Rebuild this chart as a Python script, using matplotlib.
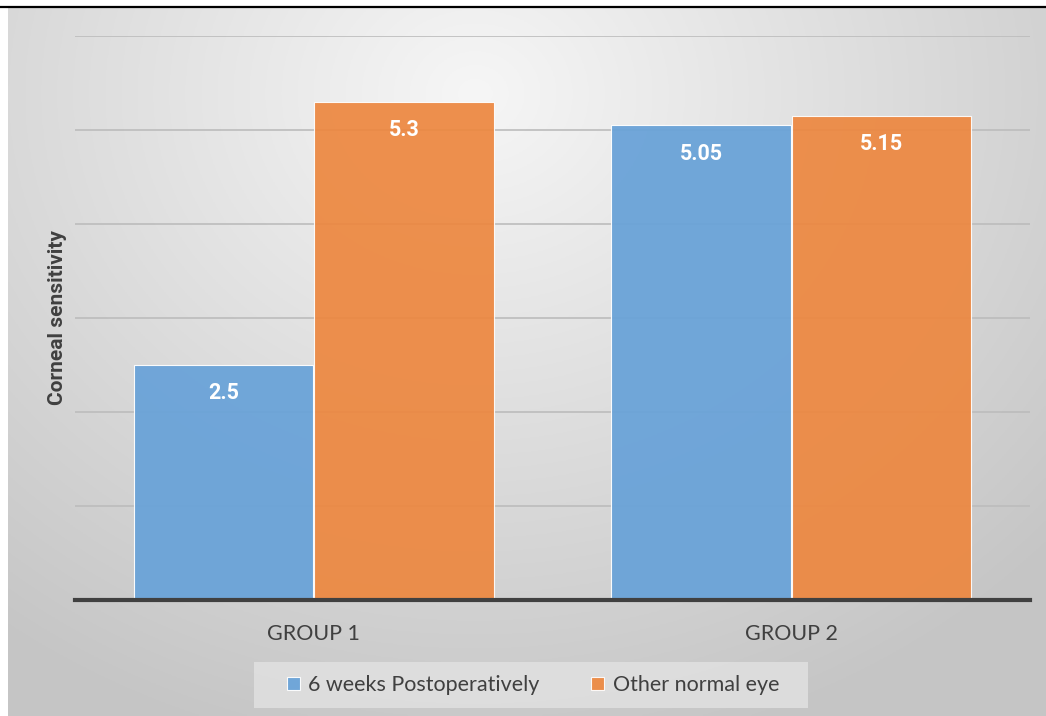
import numpy as np
import matplotlib
matplotlib.use("Agg")
from matplotlib import pyplot as plt
from matplotlib.lines import Line2D
from matplotlib.patches import Rectangle

# Data
groups = ['GROUP 1', 'GROUP 2']
postop = [2.5, 5.05]
normal_eye = [5.3, 5.15]
series_names = ['6 weeks Postoperatively', 'Other normal eye']
y_label = 'Corneal sensitivity'

blue = '#6aa3d8'
orange = '#ed873f'
text_col = '#404040'
narrow = ['Lato', 'DejaVu Sans']

W, H = 1046, 716
fig = plt.figure(figsize=(W / 100, H / 100), dpi=100)
fig.patch.set_facecolor('white')

# background panel with radial gradient
bg = fig.add_axes([8 / W, 0, 1 - 8 / W, (H - 8) / H])
yy, xx = np.mgrid[0:1:300j, 0:1:400j]
r = np.sqrt(((xx - 0.45) / 0.75) ** 2 + ((yy - 0.12) / 0.95) ** 2)
r = np.clip(r, 0, 1)
shade = 0.965 - 0.19 * r
bg.imshow(np.dstack([shade] * 3), aspect='auto', extent=[0, 1, 1, 0])
bg.set_axis_off()

# thin black line on top
fig.add_artist(Line2D([0, 1], [1 - 6.5 / H, 1 - 6.5 / H], color='black', lw=1.6,
                      transform=fig.transFigure))

# legend box
fig.add_artist(Rectangle((254 / W, 1 - 708 / H), (808 - 254) / W, 46 / H,
                         transform=fig.transFigure, facecolor='#e2e2e2', alpha=0.8,
                         edgecolor='none'))

ax = fig.add_axes([75 / W, (H - 600) / H, (1030 - 75) / W, (600 - 36) / H])
ax.set_facecolor('none')

x = np.arange(len(groups))
width = 0.375
off = 0.189
b1 = ax.bar(x - off, postop, width, color=blue, alpha=0.95, edgecolor='white', linewidth=0.8,
            label=series_names[0], zorder=3)
b2 = ax.bar(x + off, normal_eye, width, color=orange, alpha=0.92, edgecolor='white', linewidth=0.8,
            label=series_names[1], zorder=3)

for bars in (b1, b2):
    for b in bars:
        ax.text(b.get_x() + b.get_width() / 2, b.get_height() - 0.3, f'{b.get_height():g}',
                ha='center', va='center', color='white', fontsize=15.5, fontweight='bold',
                family=['Roboto', 'DejaVu Sans'], zorder=4)

ax.set_xlim(-0.5, 1.5)
ax.set_ylim(0, 6)
ax.set_yticks(np.arange(0, 7, 1))
ax.set_yticklabels([])
ax.tick_params(axis='y', length=0)
ax.tick_params(axis='x', length=0, pad=17)
ax.grid(axis='y', color='#bcbcbc', lw=1.2, zorder=1)
for s in ('top', 'right', 'left'):
    ax.spines[s].set_visible(False)
ax.spines['bottom'].set_color('#404040')
ax.spines['bottom'].set_linewidth(3)
ax.spines['bottom'].set_zorder(5)

ax.set_xticks(x)
ax.set_xticklabels(groups, fontsize=15.5, color=text_col, family=narrow)
ax.set_ylabel(y_label, fontsize=15, fontweight='bold', color=text_col,
              family=['Roboto', 'DejaVu Sans'])
ax.yaxis.set_label_coords(-0.0085, 0.5)

leg = fig.legend(loc='center', bbox_to_anchor=(533 / W, 1 - 685 / H), ncol=2,
                 frameon=False, handlelength=0.6, handleheight=0.6,
                 handletextpad=0.4, columnspacing=2.4, borderpad=0.5, borderaxespad=0,
                 prop={'family': narrow, 'size': 15.5})
for t in leg.get_texts():
    t.set_color(text_col)

fig.savefig('out.png', dpi=100)
